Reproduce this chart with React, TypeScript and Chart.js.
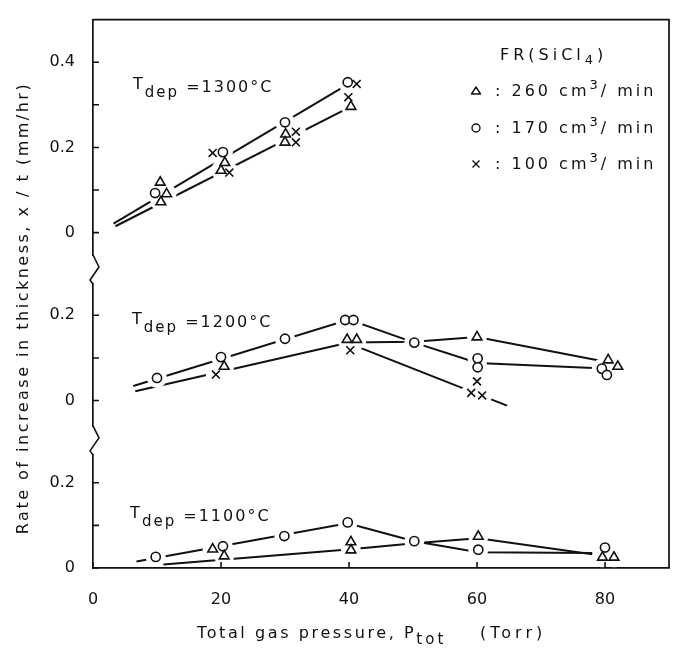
import React, { useEffect, useRef } from 'react';
import { Chart, registerables } from 'chart.js';

Chart.register(...registerables);

// ---------------- data ----------------
const X_TICKS = [0, 20, 40, 60, 80];
const Y_TICKS_1300 = [0, 0.1, 0.2, 0.3, 0.4];
const Y_TICKS_1200 = [0, 0.1, 0.2];
const Y_TICKS_1100 = [0, 0.1, 0.2];

const TDEP_LABELS = ['1300', '1200', '1100'];
const FLOW_RATES = ['260', '170', '100'];

// T_dep = 1300 °C
const P_TRI_1300 = [10.5, 11.5, 10.6, 20.6, 20.0, 30.1, 30.0, 40.3];
const R_TRI_1300 = [0.118, 0.091, 0.072, 0.164, 0.146, 0.231, 0.212, 0.296];
const P_CIR_1300 = [9.7, 20.3, 30.0, 39.8];
const R_CIR_1300 = [0.093, 0.189, 0.259, 0.353];
const P_X_1300 = [18.7, 21.3, 31.7, 31.7, 41.2, 39.9];
const R_X_1300 = [0.187, 0.141, 0.237, 0.212, 0.349, 0.318];
const P_FIT_1300_A = [3.2, 40.0];
const R_FIT_1300_A = [0.021, 0.35];
const P_FIT_1300_B = [3.5, 40.3];
const R_FIT_1300_B = [0.015, 0.296];

// T_dep = 1200 °C
const P_CIR_1200 = [10.0, 20.0, 30.0, 39.4, 40.7, 50.2, 60.1, 60.1, 79.5, 80.3];
const R_CIR_1200 = [0.053, 0.102, 0.145, 0.189, 0.189, 0.136, 0.099, 0.078, 0.075, 0.06];
const P_TRI_1200 = [20.5, 39.7, 41.2, 60.0, 80.5, 82.0];
const R_TRI_1200 = [0.08, 0.143, 0.143, 0.149, 0.095, 0.08];
const P_X_1200 = [19.2, 40.2, 60.0, 59.1, 60.8];
const R_X_1200 = [0.061, 0.118, 0.045, 0.018, 0.012];
const P_FIT_1200_A = [6.3, 40.0, 50.2, 60.1, 79.0];
const R_FIT_1200_A = [0.034, 0.19, 0.136, 0.088, 0.076];
const P_FIT_1200_B = [6.6, 40.0, 50.2, 60.0, 80.5];
const R_FIT_1200_B = [0.022, 0.136, 0.138, 0.149, 0.09];
const P_FIT_1200_C = [40.0, 64.7];
const R_FIT_1200_C = [0.134, -0.012];

// T_dep = 1100 °C
const P_CIR_1100 = [9.8, 20.3, 29.9, 39.8, 50.2, 60.2, 80.0];
const R_CIR_1100 = [0.026, 0.051, 0.075, 0.107, 0.063, 0.043, 0.048];
const P_TRI_1100 = [18.7, 20.5, 40.3, 40.3, 60.2, 79.6, 81.4];
const R_TRI_1100 = [0.044, 0.028, 0.061, 0.042, 0.074, 0.025, 0.025];
const P_FIT_1100_A = [6.8, 39.8, 50.2, 60.2, 78.0];
const R_FIT_1100_A = [0.015, 0.105, 0.063, 0.037, 0.035];
const P_FIT_1100_B = [11.0, 40.3, 50.2, 60.2, 78.0];
const R_FIT_1100_B = [0.008, 0.044, 0.058, 0.07, 0.032];

// ---------------- styling ----------------
const INK = '#111111';
const FONT = '"DejaVu Sans", sans-serif';
const MASK_R = 10;

const pts = (P: number[], R: number[]) => P.map((p, i) => ({ x: p, y: R[i] }));

type Style = 'triangle' | 'circle' | 'crossRot';
const RADIUS: Record<Style, number> = { triangle: 5.6, circle: 4.6, crossRot: 5.6 };

function markerSets(P: number[], R: number[], style: Style, axis: string) {
  const data = pts(P, R);
  return [
    {
      data,
      yAxisID: axis,
      showLine: false,
      pointStyle: style,
      pointRadius: RADIUS[style],
      pointBorderColor: INK,
      pointBackgroundColor: '#ffffff',
      pointBorderWidth: 1.6,
      order: 1,
    },
    {
      data,
      yAxisID: axis,
      showLine: false,
      pointStyle: 'circle',
      pointRadius: MASK_R,
      pointBorderWidth: 0,
      pointBorderColor: '#ffffff',
      pointBackgroundColor: '#ffffff',
      order: 2,
    },
  ];
}

function fitSet(P: number[], R: number[], axis: string) {
  return {
    data: pts(P, R),
    yAxisID: axis,
    showLine: true,
    borderColor: INK,
    borderWidth: 2,
    pointRadius: 0,
    tension: 0,
    order: 3,
  };
}

const tickLabel = (v: any) => {
  const k = Math.round(Number(v) * 10);
  if (k % 2 !== 0) return '';
  return k === 0 ? '0' : (k / 10).toFixed(1);
};

function yScale(min: number, max: number, ticks: number[]) {
  return {
    type: 'linear',
    position: 'left',
    stack: 'rate',
    stackWeight: max - min,
    min,
    max,
    grid: { display: false },
    border: { display: true, color: INK, width: 1.7 },
    ticks: { callback: tickLabel, color: INK, font: { family: FONT, size: 16 }, padding: 10 },
    afterBuildTicks: (s: any) => {
      s.ticks = ticks.map((v) => ({ value: v }));
    },
    afterFit: (s: any) => {
      s.width = 93;
    },
  };
}

type Run = { t: string; size: number; dy?: number; sp?: number };
function drawRuns(ctx: CanvasRenderingContext2D, x: number, y: number, runs: Run[], spacing: number) {
  let cx = x;
  for (const r of runs) {
    ctx.font = `${r.size}px ${FONT}`;
    (ctx as any).letterSpacing = `${r.sp ?? spacing}px`;
    ctx.fillText(r.t, cx, y + (r.dy || 0));
    cx += ctx.measureText(r.t).width;
  }
}

const decor = {
  id: 'decor',
  afterDraw(chart: any) {
    const ctx: CanvasRenderingContext2D = chart.ctx;
    const { left, right, top, bottom } = chart.chartArea;
    const xs = chart.scales.x;
    ctx.save();
    ctx.strokeStyle = INK;
    ctx.fillStyle = INK;
    ctx.lineWidth = 1.7;
    ctx.lineCap = 'butt';

    // frame top & right
    ctx.beginPath();
    ctx.moveTo(left, top);
    ctx.lineTo(right, top);
    ctx.lineTo(right, bottom);
    ctx.stroke();

    // inward ticks
    ctx.lineWidth = 1.6;
    ctx.beginPath();
    for (const id of ['yT', 'yM', 'yB']) {
      const s = chart.scales[id];
      for (const t of s.ticks) {
        const y = s.getPixelForValue(t.value);
        ctx.moveTo(left, y);
        ctx.lineTo(left + 6, y);
      }
    }
    for (const t of xs.ticks) {
      const x = xs.getPixelForValue(t.value);
      ctx.moveTo(x, bottom);
      ctx.lineTo(x, bottom - 6);
    }
    ctx.stroke();

    // axis breaks
    for (const b of [chart.scales.yT.bottom, chart.scales.yM.bottom]) {
      ctx.fillStyle = '#ffffff';
      ctx.fillRect(left - 3, b - 15, 6, 27);
      ctx.beginPath();
      ctx.moveTo(left, b - 16);
      ctx.lineTo(left + 6, b - 4);
      ctx.lineTo(left - 3, b + 9);
      ctx.lineTo(left, b + 13);
      ctx.lineWidth = 1.6;
      ctx.lineJoin = 'round';
      ctx.stroke();
    }

    ctx.fillStyle = INK;
    ctx.textBaseline = 'alphabetic';
    ctx.textAlign = 'left';

    // T_dep labels
    const anchors = [
      { id: 'yT', p: 6.25, r: 0.33 },
      { id: 'yM', p: 6.1, r: 0.173 },
      { id: 'yB', p: 5.8, r: 0.111 },
    ];
    anchors.forEach((a, i) => {
      const x = xs.getPixelForValue(a.p);
      const y = chart.scales[a.id].getPixelForValue(a.r);
      drawRuns(
        ctx,
        x,
        y,
        [
          { t: 'T', size: 16, dy: -3 },
          { t: 'dep', size: 15, dy: 5 },
          { t: ' =' + TDEP_LABELS[i] + '°C', size: 16 },
        ],
        2
      );
    });

    // legend
    drawRuns(ctx, 500, 60, [
      { t: 'FR(SiCl', size: 16 },
      { t: '4', size: 13, dy: 4 },
      { t: ')', size: 16 },
    ], 4);
    const styles: Style[] = ['triangle', 'circle', 'crossRot'];
    const baselines = [96, 133, 169];
    styles.forEach((st, i) => {
      const by = baselines[i];
      const cx = 476;
      const cy = by - 5;
      ctx.lineWidth = 1.4;
      ctx.beginPath();
      if (st === 'triangle') {
        ctx.moveTo(cx, cy - 4);
        ctx.lineTo(cx + 4.5, cy + 3);
        ctx.lineTo(cx - 4.5, cy + 3);
        ctx.closePath();
      } else if (st === 'circle') {
        ctx.arc(cx, cy, 4, 0, Math.PI * 2);
      } else {
        ctx.moveTo(cx - 3.5, cy - 3.5);
        ctx.lineTo(cx + 3.5, cy + 3.5);
        ctx.moveTo(cx + 3.5, cy - 3.5);
        ctx.lineTo(cx - 3.5, cy + 3.5);
      }
      ctx.stroke();
      drawRuns(ctx, 495, by, [
        { t: ': ' + FLOW_RATES[i] + ' cm', size: 16 },
        { t: '3', size: 13, dy: -7 },
        { t: '/ min', size: 16 },
      ], 3);
    });

    // axis titles
    drawRuns(ctx, 197, 638, [
      { t: 'Total gas pressure, P', size: 16 },
      { t: 'tot', size: 15, dy: 6, sp: 3 },
    ], 2.6);
    drawRuns(ctx, 480, 638, [{ t: '(Torr)', size: 16 }], 4);

    ctx.save();
    ctx.translate(24, 308);
    ctx.rotate(-Math.PI / 2);
    ctx.textAlign = 'center';
    ctx.textBaseline = 'middle';
    ctx.font = `16px ${FONT}`;
    (ctx as any).letterSpacing = '2.5px';
    ctx.fillText('Rate of increase in thickness, x / t (mm/hr)', 0, 0);
    ctx.restore();

    ctx.restore();
  },
};

export default function App() {
  const ref = useRef<HTMLCanvasElement | null>(null);

  useEffect(() => {
    if (!ref.current) return;
    const datasets: any[] = [
      fitSet(P_FIT_1300_A, R_FIT_1300_A, 'yT'),
      fitSet(P_FIT_1300_B, R_FIT_1300_B, 'yT'),
      fitSet(P_FIT_1200_A, R_FIT_1200_A, 'yM'),
      fitSet(P_FIT_1200_B, R_FIT_1200_B, 'yM'),
      fitSet(P_FIT_1200_C, R_FIT_1200_C, 'yM'),
      fitSet(P_FIT_1100_A, R_FIT_1100_A, 'yB'),
      fitSet(P_FIT_1100_B, R_FIT_1100_B, 'yB'),
      ...markerSets(P_TRI_1300, R_TRI_1300, 'triangle', 'yT'),
      ...markerSets(P_CIR_1300, R_CIR_1300, 'circle', 'yT'),
      ...markerSets(P_X_1300, R_X_1300, 'crossRot', 'yT'),
      ...markerSets(P_TRI_1200, R_TRI_1200, 'triangle', 'yM'),
      ...markerSets(P_CIR_1200, R_CIR_1200, 'circle', 'yM'),
      ...markerSets(P_X_1200, R_X_1200, 'crossRot', 'yM'),
      ...markerSets(P_TRI_1100, R_TRI_1100, 'triangle', 'yB'),
      ...markerSets(P_CIR_1100, R_CIR_1100, 'circle', 'yB'),
    ];

    const chart = new Chart(ref.current, {
      type: 'scatter',
      data: { datasets },
      plugins: [decor],
      options: {
        animation: false,
        responsive: true,
        maintainAspectRatio: false,
        events: [],
        layout: { padding: { top: 11, right: 15, left: 0, bottom: 0 } },
        plugins: { legend: { display: false }, tooltip: { enabled: false } },
        scales: {
          x: {
            type: 'linear',
            position: 'bottom',
            min: 0,
            max: 90,
            z: 1,
            grid: { display: false },
            border: { display: true, color: INK, width: 1.7 },
            ticks: { color: INK, font: { family: FONT, size: 16 }, padding: 14, maxRotation: 0 },
            afterBuildTicks: (s: any) => {
              s.ticks = X_TICKS.map((v) => ({ value: v }));
            },
            afterFit: (s: any) => {
              s.height = 87;
            },
          },
          yB: yScale(0, 0.296, Y_TICKS_1100),
          yM: yScale(-0.097, 0.304, Y_TICKS_1200),
          yT: yScale(-0.09, 0.5, Y_TICKS_1300),
        } as any,
      } as any,
    });
    return () => chart.destroy();
  }, []);

  return (
    <div style={{ position: 'absolute', left: 0, top: 0, width: 684, height: 655, background: '#fff' }}>
      <canvas ref={ref} />
    </div>
  );
}
